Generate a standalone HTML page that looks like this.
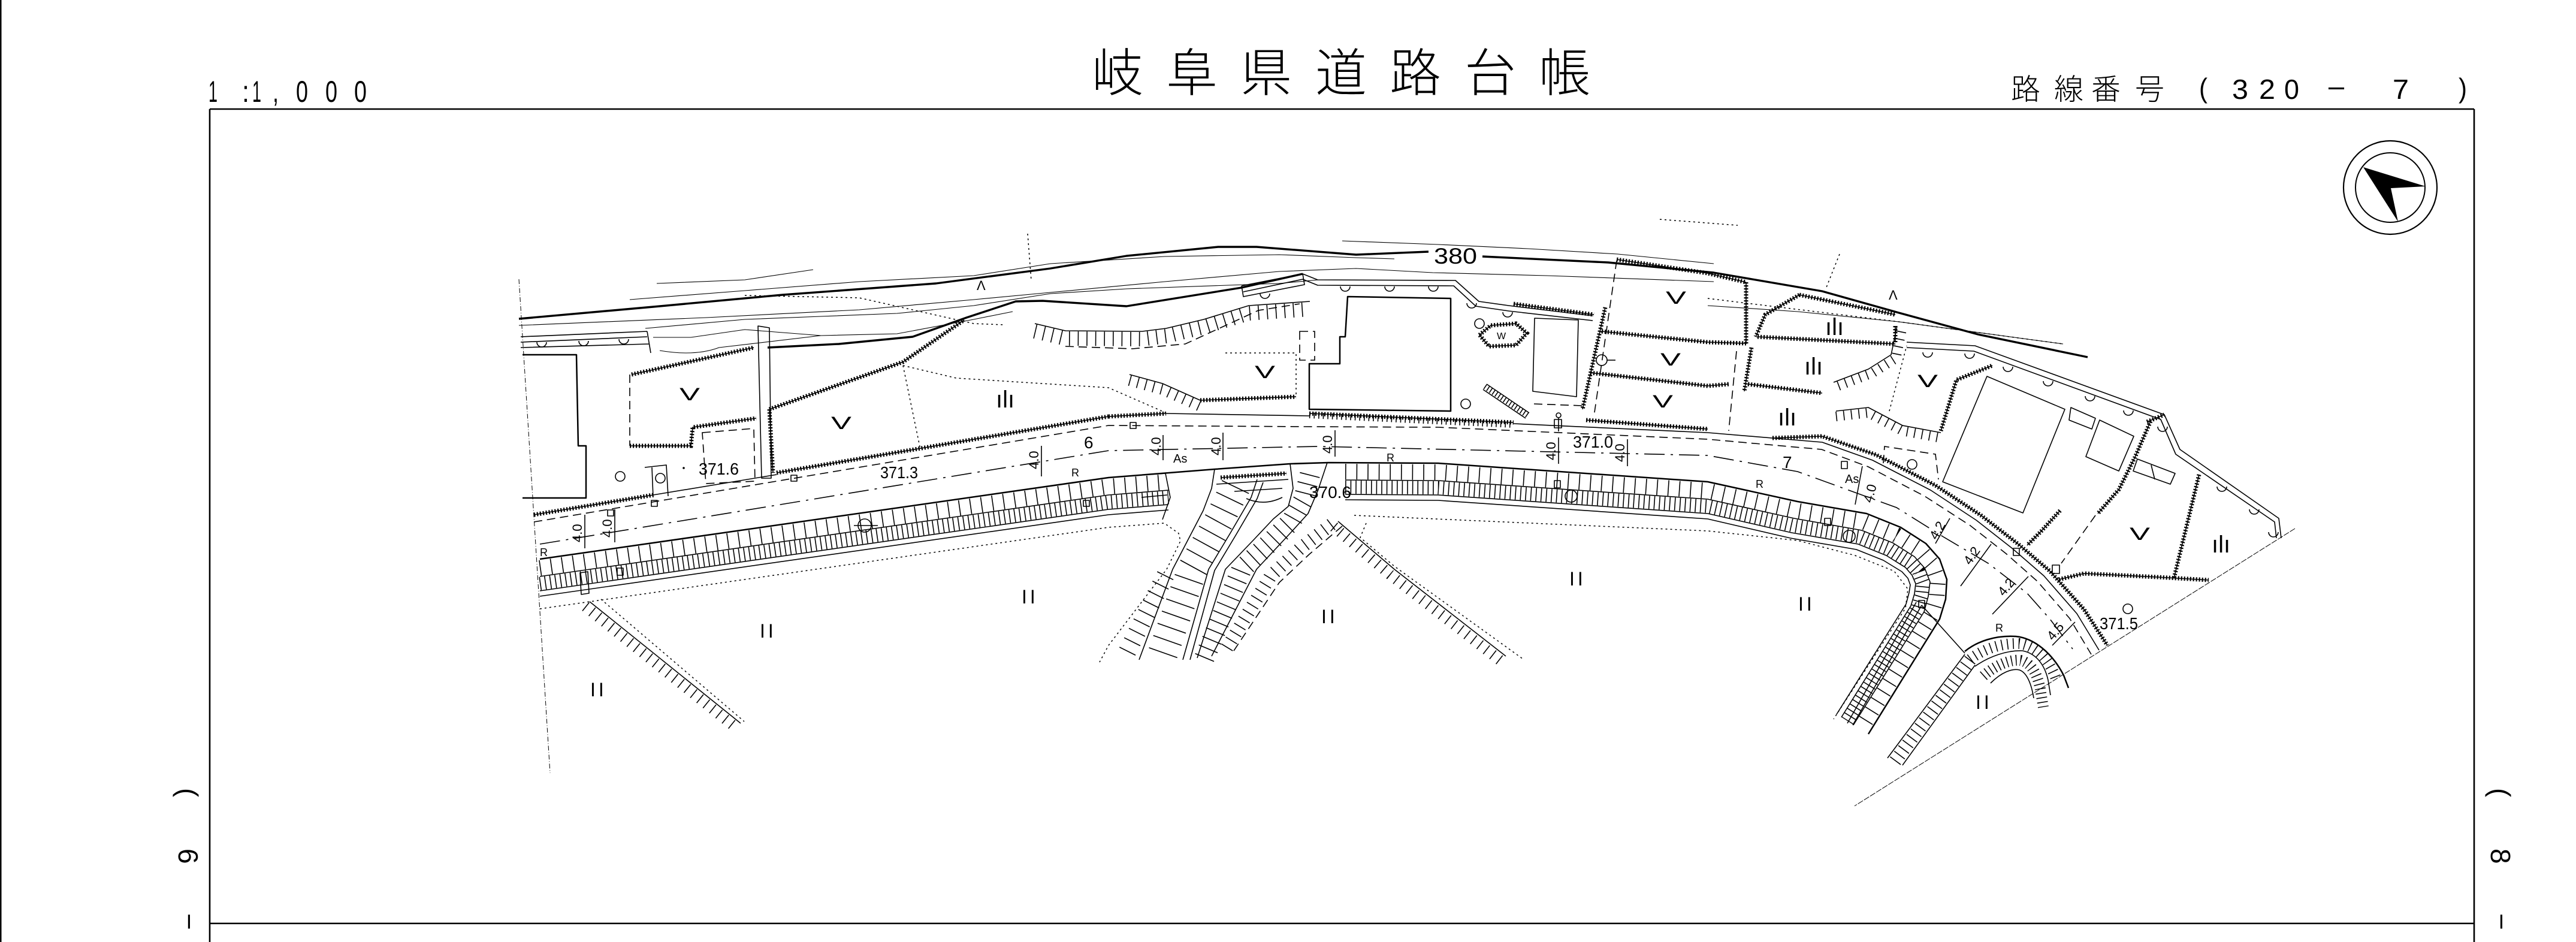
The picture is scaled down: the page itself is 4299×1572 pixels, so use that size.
<!DOCTYPE html>
<html><head><meta charset="utf-8"><title>岐阜県道路台帳</title>
<style>
html,body{margin:0;padding:0;background:#fff}
svg{display:block}
.l{fill:none;stroke:#000;stroke-width:1.6;stroke-linejoin:round}
.t1{fill:none;stroke:#000;stroke-width:1.1}
.k{fill:none;stroke:#000;stroke-width:3.4;stroke-linejoin:round}
.m{fill:none;stroke:#000;stroke-width:2.5;stroke-linejoin:round}
.h{fill:none;stroke:#000;stroke-width:1.6;stroke-dasharray:14 8}
.o{fill:none;stroke:#000;stroke-width:1.5;stroke-dasharray:3 5}
.dd{fill:none;stroke:#000;stroke-width:1.6;stroke-dasharray:34 10 4 10}
.sc{fill:none;stroke:#000;stroke-width:7;stroke-dasharray:2.2 2.8}
.tk{fill:none;stroke:#000}
text{font-family:"Liberation Sans","Noto Sans CJK JP",sans-serif;fill:#000}
.cj{font-family:"Liberation Sans","Noto Sans CJK JP",sans-serif;font-weight:300;fill:#333}
</style></head>
<body>
<svg xmlns="http://www.w3.org/2000/svg" width="4299" height="1572" viewBox="0 0 4299 1572">
<rect x="0" y="0" width="4299" height="1572" fill="#fff"/>
<defs>
<g id="SC">
<path d="M891,859 L1090,826"/>
<path d="M1296,789 L1850,695"/>
<path d="M1054,625 L1258,580"/>
<path d="M1051,744 L1153,744 L1156,713 L1262,698"/>
<path d="M1284,683 L1507,604 L1609,534"/>
<path d="M1284,683 L1290,789"/>
<path d="M2003,668 L2163,662"/>
<path d="M1850,695 L1946,690"/>
<path d="M2526,507 L2660,525"/>
<path d="M2469,559 L2488,543 L2530,540 L2548,556 L2530,576 L2485,578 Z"/>
<path d="M2698,433 L2850,456 L2914,471"/>
<path d="M2679,513 L2641,683"/>
<path d="M2673,553 L2850,571 L2914,573"/>
<path d="M2933,562 L3163,574"/>
<path d="M2654,622 L2850,644 L2885,641"/>
<path d="M2917,641 L3041,656"/>
<path d="M2647,701 L2850,716"/>
<path d="M2914,471 L2914,574"/>
<path d="M3003,492 L2946,525 L2930,562"/>
<path d="M3003,492 L3163,525"/>
<path d="M3163,544 L3163,571"/>
<path d="M2923,580 L2911,653"/>
<path d="M2958,731 L3041,728 L3131,759 L3230,810 L3306,860 L3367,907 L3421,953 L3478,1017 L3517,1077"/>
<path d="M3239,719 L3265,634 L3325,610"/>
<path d="M3589,703 L3563,763 L3536,817 L3501,857"/>
<path d="M3436,967 L3478,957 L3600,963 L3686,968"/>
<path d="M3670,792 L3628,965"/>
<path d="M3438,852 L3406,887 L3383,910"/>
<path d="M2037,797 L2147,790"/>
<path d="M2185,690 L2526,705"/>
<path d="M3583,704 L3612,692"/>
</g>
<path id="S0a" d="M901,933 L1850,797 L1950,789"/>
<path id="H1" d="M1727,540 L1778,552 L1906,553 L1946,548 L2009,533 L2084,510 L2186,503"/>
<path id="H2" d="M1885,625 L1940,640 L2003,668"/>
<path id="H3" d="M984,1004 L1236,1207"/>
<path id="H4" d="M2233,870 L2327,950 L2513,1095"/>
<path id="H5" d="M3060,638 L3118,616 L3156,592 L3166,544"/>
<path id="H6" d="M3064,686 L3118,680 L3175,710 L3239,722"/>
</defs>

<!-- frame -->
<rect x="0" y="0" width="2.5" height="1572" fill="#000"/>
<path d="M350,182 H4129 M350,182 V1572 M4129,182 V1572 M350,1541 H4129" fill="none" stroke="#000" stroke-width="2.6"/>

<!-- header -->
<g font-size="50">
<text x="348" y="170" textLength="15" lengthAdjust="spacingAndGlyphs">1</text>
<text x="404" y="170" textLength="12" lengthAdjust="spacingAndGlyphs">:</text>
<text x="421" y="170" textLength="15" lengthAdjust="spacingAndGlyphs">1</text>
<text x="455" y="170" textLength="10" lengthAdjust="spacingAndGlyphs">,</text>
<text x="494" y="170" textLength="20" lengthAdjust="spacingAndGlyphs">0</text>
<text x="543" y="170" textLength="20" lengthAdjust="spacingAndGlyphs">0</text>
<text x="591" y="170" textLength="21" lengthAdjust="spacingAndGlyphs">0</text>
</g>
<g class="cj" font-size="86">
<text x="1822" y="152">岐</text>
<text x="1946" y="152">阜</text>
<text x="2070" y="152">県</text>
<text x="2195" y="152">道</text>
<text x="2319" y="152">路</text>
<text x="2444" y="152">台</text>
<text x="2568" y="152">帳</text>
</g>
<g class="cj" font-size="49">
<text x="3356" y="166">路</text>
<text x="3428" y="166">線</text>
<text x="3490" y="166">番</text>
<text x="3563" y="166">号</text>
</g>
<g font-size="46">
<text x="3670" y="163" textLength="14" lengthAdjust="spacingAndGlyphs">(</text>
<text x="3725" y="165" textLength="27" lengthAdjust="spacingAndGlyphs">3</text>
<text x="3770" y="165" textLength="27" lengthAdjust="spacingAndGlyphs">2</text>
<text x="3812" y="165" textLength="25" lengthAdjust="spacingAndGlyphs">0</text>
<text x="3881" y="165" textLength="36" lengthAdjust="spacingAndGlyphs">－</text>
<text x="3993" y="165" textLength="27" lengthAdjust="spacingAndGlyphs">7</text>
<text x="4103" y="163" textLength="14" lengthAdjust="spacingAndGlyphs">)</text>
</g>
<!-- side labels -->
<g font-size="46">
<text transform="translate(298,1315) rotate(90)">(</text>
<text transform="translate(298,1416) rotate(90)">6</text>
<text transform="translate(298,1522) rotate(90)" textLength="32" lengthAdjust="spacingAndGlyphs">－</text>
<text transform="translate(4157,1315) rotate(90)">(</text>
<text transform="translate(4157,1416) rotate(90)">8</text>
<text transform="translate(4157,1522) rotate(90)" textLength="32" lengthAdjust="spacingAndGlyphs">－</text>
</g>

<!-- north arrow -->
<circle cx="3989" cy="313" r="78" fill="none" stroke="#000" stroke-width="2.2"/>
<circle cx="3989" cy="313" r="58" fill="none" stroke="#000" stroke-width="2"/>
<polygon points="3944,279 4048,311 3990,314 4002,370" fill="#000"/>

<!-- ================= MAP ================= -->
<path d="M866,466 L918,1290" fill="none" stroke="#000" stroke-width="1" stroke-dasharray="8 3 1 3"/>
<path d="M3830,882 L3095,1345" fill="none" stroke="#000" stroke-width="1" stroke-dasharray="10 2"/>

<!-- contours -->
<path class="k" d="M866,532 L1090,512 L1306,492 L1562,473 L1753,448 L1880,427 L2033,412 L2097,412 L2263,425 L2384,420"/>
<path class="k" d="M2474,428 L2684,438 L2860,455 L3041,486 L3169,522 L3301,558 L3484,596"/>
<text x="2393" y="440" font-size="37" textLength="72" lengthAdjust="spacingAndGlyphs">380</text>
<path class="k" d="M1281,580 L1400,574 L1523,562 L1613,530 L1695,503 L1740,502 L1880,511 L2072,480 L2174,457"/>
<path class="t1" d="M1096,473 L1243,467 L1357,450"/>
<path class="t1" d="M1051,500 L1243,485 L1434,470 L1625,460 L1753,440 L1944,428 L2135,425 L2263,430 L2327,432"/>
<path class="t1" d="M866,543 L1179,530 L1434,517 L1625,500 L1753,488 L1944,470 L2135,453 L2263,448 L2391,455 L2582,460 L2860,470"/>
<path class="t1" d="M1077,548 L1243,533 L1370,528 L1497,523 L1625,510 L1753,490 L1880,482 L2135,473 L2200,467"/>
<path class="t1" d="M1090,563 L1153,563 L1243,550 L1370,560 L1497,557 L1625,533 L1690,520"/>
<path class="t1" d="M1101,585 Q1160,595 1200,580 L1370,560"/>
<path class="t1" d="M2850,510 L3000,520 L3169,537 L3443,574"/>
<path class="t1" d="M2240,402 L2400,408 L2550,415 L2700,424 L2860,440"/>
<path class="o" d="M1243,493 L1434,497 L1625,540 L1676,542"/>
<path class="o" d="M2770,366 L2900,376"/>
<path class="o" d="M1715,390 L1721,468"/>
<path class="o" d="M3070,424 L3047,482"/>
<path class="o" d="M2850,498 L3169,537 L3443,574"/>
<g font-size="22"><text x="1630" y="484">Λ</text><text x="3152" y="500">Λ</text></g>

<!-- scalloped boundaries -->
<use href="#SC" class="l"/>
<use href="#SC" class="sc"/>

<!-- top-left wall -->
<path class="l" d="M869,562 L1080,553 M869,571 L1080,562 M869,580 L1083,574 M1080,553 L1086,589"/>
<path class="l" d="M896,571 a8,8 0 0 0 16,0 M966,569 a8,8 0 0 0 16,0 M1033,566 a8,8 0 0 0 16,0"/>
<path class="m" d="M872,592 L962,592 L965,744 L978,744 L978,831 L872,831"/>
<text x="1134" y="668" font-size="30" textLength="34" lengthAdjust="spacingAndGlyphs">V</text>
<path class="h" d="M1051,625 L1051,744"/>
<path class="h" d="M1172,722 L1258,715 L1260,803 L1178,807 Z"/>
<path class="l" d="M1265,544 L1284,547 L1287,798 L1271,798 Z"/>
<path class="l" d="M1076,780 L1112,776 L1115,828 M1088,780 L1090,830"/>
<circle cx="1035" cy="795" r="8" class="l"/>
<circle cx="1102" cy="798" r="8" class="l"/>
<text x="1387" y="716" font-size="30" textLength="34" lengthAdjust="spacingAndGlyphs">V</text>
<path class="o" d="M1507,610 L1596,631 L1850,647 L1946,689"/>
<path class="o" d="M1507,610 L1536,750"/>
<text x="1662" y="680" font-size="40">ılı</text>

<!-- hachure slopes -->
<use href="#H1" class="l"/>
<use href="#H1" class="tk" transform="translate(0,13)" style="stroke-width:24;stroke-dasharray:1.6 13"/>
<path class="h" d="M1778,578 L1890,582 L1978,574 L2100,518 L2169,507"/>
<use href="#H2" class="l"/>
<use href="#H2" class="tk" transform="translate(0,10)" style="stroke-width:18;stroke-dasharray:1.6 12"/>
<use href="#H3" class="l"/>
<use href="#H3" class="tk" transform="translate(-7,8)" style="stroke-width:18;stroke-dasharray:1.6 12"/>
<path class="o" d="M1003,1000 L1242,1204"/>
<use href="#H4" class="l"/>
<use href="#H4" class="tk" transform="translate(-7,9)" style="stroke-width:18;stroke-dasharray:1.6 12"/>
<path class="o" d="M2280,873 L2270,897 L2327,945 L2542,1100"/>
<use href="#H5" class="l"/>
<use href="#H5" class="tk" transform="translate(8,6)" style="stroke-width:16;stroke-dasharray:1.6 11"/>
<use href="#H6" class="l"/>
<use href="#H6" class="tk" transform="translate(0,9)" style="stroke-width:16;stroke-dasharray:1.6 11"/>

<!-- middle upper area -->
<path class="o" d="M2045,589 L2163,589 L2163,662"/>
<text x="2094" y="631" font-size="30" textLength="34" lengthAdjust="spacingAndGlyphs">V</text>
<path class="h" d="M2169,553 L2194,553 L2194,601 L2169,601 Z"/>
<path class="m" d="M2249,495 L2421,498 L2421,686 L2185,683 L2185,607 L2236,607 L2236,562 L2245,562 Z"/>
<path class="l" d="M2072,477 L2174,457 L2199,467 L2429,468 L2468,503 L2518,510 L2658,527"/>
<path class="l" d="M2075,487 L2174,466 L2199,476 L2426,477 L2463,511 L2518,519 L2658,535"/>
<path class="l" d="M2072,477 L2075,495 L2177,475 L2174,457"/>
<path class="l" d="M2103,490 a8,8 0 0 0 16,0 M2237,478 a8,8 0 0 0 16,0 M2311,478 a8,8 0 0 0 16,0 M2384,478 a8,8 0 0 0 16,0 M2448,506 a8,8 0 0 0 16,0 M2508,521 a8,8 0 0 0 16,0"/>
<path class="l" d="M2561,531 L2634,534 L2631,662 L2558,653 Z"/>
<path class="h" d="M2560,674 L2640,677"/>
<text x="2498" y="566" font-size="16">W</text>
<path class="l" d="M2481,641 L2552,689 M2475,650 L2546,698"/>
<path class="tk" d="M2478,645 L2549,693" style="stroke-width:9;stroke-dasharray:1.6 4"/>
<circle cx="2469" cy="540" r="8" class="l"/>
<circle cx="2446" cy="674" r="8" class="l"/>
<path class="tk" d="M2185,693 L2526,709" style="stroke-width:10;stroke-dasharray:1.6 6"/>
<path class="h" d="M2698,435 L2660,695"/>
<g font-size="30">
<text x="2780" y="507" textLength="34" lengthAdjust="spacingAndGlyphs">V</text>
<text x="2771" y="610" textLength="34" lengthAdjust="spacingAndGlyphs">V</text>
<text x="2758" y="680" textLength="34" lengthAdjust="spacingAndGlyphs">V</text>
</g>
<circle cx="2673" cy="601" r="9" class="l"/><path class="l" d="M2682,601 H2696"/>

<!-- right upper area -->
<path class="l" d="M3182,571 L3296,577 L3612,692 L3638,750 L3803,865 L3807,898"/>
<path class="l" d="M3182,580 L3294,586 L3606,700 L3631,758 L3796,871 L3799,898"/>
<path class="l" d="M3209,588 a8,8 0 0 0 16,0 M3279,590 a8,8 0 0 0 16,0 M3343,612 a8,8 0 0 0 16,0 M3410,636 a8,8 0 0 0 16,0 M3480,661 a8,8 0 0 0 16,0 M3544,685 a8,8 0 0 0 16,0 M3601,712 a8,8 0 0 0 16,0 M3700,812 a8,8 0 0 0 16,0 M3754,850 a8,8 0 0 0 16,0 M3786,888 a8,8 0 0 0 16,0"/>
<g font-size="40">
<text x="3046" y="559">ılı</text>
<text x="3011" y="625">ılı</text>
<text x="2967" y="710">ılı</text>
<text x="3691" y="922">ılı</text>
</g>
<path class="h" d="M2898,586 L2885,719"/>
<path class="o" d="M3153,686 L3182,577"/>
<text x="3200" y="646" font-size="30" textLength="34" lengthAdjust="spacingAndGlyphs">V</text>
<path class="l" d="M3316,628 L3446,683 L3376,856 L3242,804 Z"/>
<path class="l" d="M3456,680 L3497,698 L3491,716 L3453,701 Z"/>
<path class="l" d="M3504,701 L3561,728 L3536,786 L3481,762 Z"/>
<path class="h" d="M3143,773 L3145,745 L3230,758 L3235,800"/>
<circle cx="3191" cy="775" r="8" class="l"/>
<path class="h" d="M3497,860 L3440,940"/>
<path class="l" d="M3567,766 L3630,790 L3622,808 L3560,786 Z M3590,776 L3596,800"/>
<text x="3554" y="901" font-size="30" textLength="34" lengthAdjust="spacingAndGlyphs">V</text>
<circle cx="3551" cy="1016" r="8" class="l"/>

<!-- ====== main road ====== -->
<path class="l" d="M1090,826 L1296,792"/>
<path class="l" d="M1946,690 L2185,694"/>
<path class="l" d="M2526,707 L2850,722 L3041,738 L3125,768 L3222,818 L3298,868 L3358,915 L3411,961 L3466,1024 L3503,1085"/>
<path class="h" d="M891,871 L1850,710 L2177,712 L2400,713 L2850,733 L3040,750 L3118,779 L3212,828 L3288,877 L3348,924 L3400,970 L3454,1032 L3490,1092"/>
<path class="dd" d="M901,908 L1850,752 L2200,745 L2850,760 L3000,787 L3165,847 L3245,897 L3318,940 L3383,990 L3421,1033 L3459,1083"/>
<path class="m" d="M901,933 L1850,797 L2027,783 L2153,774 L2217,772 L2400,773 L2850,804 L3000,837 L3115,857 L3172,880 L3214,907 L3237,933 L3249,967 L3247,1000 L3237,1033 L3118,1225"/>
<use href="#S0a" class="tk" transform="translate(0,15)" style="stroke-width:26;stroke-dasharray:1.6 17"/>
<use href="#S0a" class="l" transform="translate(0,29)"/>
<use href="#S0a" class="tk" transform="translate(0,41)" style="stroke-width:22;stroke-dasharray:1.6 7"/>
<use href="#S0a" class="l" transform="translate(0,53)"/>
<use href="#S0a" class="l" transform="translate(0,62)"/>
<path class="o" d="M901,1016 L1850,880 L1943,873 L1967,890 L1970,903 L1947,950 L1850,1077 L1835,1105"/>
<path class="l" d="M968,956 L981,954 L983,990 L970,992 Z"/>
<path class="tk" style="stroke-width:26;stroke-dasharray:1.6 17" d="M2245,787 L2400,788 L2850,819 L2997,852 L3111,871 L3165,893 L3204,918 L3224,941 L3234,969 L3232,997 L3223,1027 L3105,1217"/>
<path class="l" d="M2245,801 L2400,802 L2850,833 L2994,865 L3107,885 L3159,906 L3195,929 L3212,948 L3221,971 L3218,995 L3211,1021 L3093,1210"/>
<path class="tk" style="stroke-width:22;stroke-dasharray:1.6 7" d="M2245,813 L2400,814 L2850,845 L2992,877 L3104,896 L3153,916 L3187,938 L3202,954 L3209,973 L3207,993 L3200,1016 L3083,1203"/>
<path class="l" d="M2245,825 L2400,826 L2850,857 L2990,889 L3101,908 L3148,927 L3180,947 L3191,960 L3197,974 L3195,991 L3189,1011 L3073,1197"/>
<path class="l" d="M2245,834 L2400,835 L2850,866 L2988,898 L3098,917 L3143,935 L3174,954 L3184,965 L3188,976 L3186,989 L3181,1008 L3065,1192"/>
<path class="o" d="M2260,860 L2850,886 L3000,902 L3096,927 L3161,953 L3184,983 L3180,1015 L3060,1200"/>

<!-- branches middle -->
<path class="l" d="M2027,783 L2022,815 L2008,852 L1957,950 L1901,1101"/>
<path class="l" d="M2098,800 L2088,830 L2053,890 L2017,950 L1974,1101"/>
<path class="l" d="M2108,805 L2098,832 L2063,892 L2027,952 L1986,1101"/>
<path class="l" d="M2153,774 L2158,815 L2150,845 L2125,866 L2093,900 L2045,950 L1998,1098"/>
<path class="l" d="M2215,772 L2200,817 L2183,857 L2153,890 L2097,950 L2022,1095"/>
<path class="tk" style="stroke-width:50;stroke-dasharray:1.6 20" d="M2062,812 L2036,866 L1990,950 L1937,1101"/>
<path class="tk" style="stroke-width:34;stroke-dasharray:1.6 14" d="M2186,792 L2175,835 L2155,870 L2120,905 L2072,950 L2010,1098"/>
<path class="tk" style="stroke-width:30;stroke-dasharray:1.6 16" d="M1945,960 L1875,1100"/>
<path class="tk" style="stroke-width:22;stroke-dasharray:1.6 12" d="M2222,875 L2170,915 L2120,962 L2042,1090"/>
<path class="h" d="M2240,878 L2185,925 L2135,972 L2055,1092"/>
<path class="l" d="M2030,808 L2150,800 M2060,820 L2140,815 M2080,832 Q2110,845 2140,830"/>
<path class="l" d="M1900,793 L1945,790 L1953,830 L1940,867 M1905,830 L1948,826"/>

<!-- south branches right -->
<path class="l" d="M3198,1005 L3083,1207 M3207,1010 L3092,1210"/>
<path class="l" d="M3207,1010 L3279,1090"/>
<path class="l" d="M3279,1092 L3150,1265 M3296,1110 L3175,1277"/>
<path class="tk" style="stroke-width:22;stroke-dasharray:1.6 10" d="M3288,1101 L3162,1271"/>
<path class="m" d="M3279,1087 C3300,1070 3330,1060 3364,1062 C3395,1065 3425,1090 3444,1127 L3452,1148"/>
<path class="l" d="M3296,1112 C3320,1095 3350,1085 3375,1086 C3397,1090 3412,1108 3418,1135 L3422,1160"/>
<path class="tk" style="stroke-width:18;stroke-dasharray:1.6 8" d="M3288,1100 C3310,1083 3340,1073 3370,1074 C3398,1078 3420,1100 3432,1135"/>
<path class="tk" style="stroke-width:18;stroke-dasharray:1.6 6" d="M3310,1128 C3330,1110 3355,1100 3372,1102 C3390,1106 3400,1125 3405,1150 L3410,1180"/>
<path class="l" d="M3322,1140 C3340,1122 3358,1115 3370,1118 C3382,1122 3390,1140 3394,1165"/>
<path class="l" d="M3230,907 L3254,865 M3272,978 L3323,908 M3325,1025 L3385,962 M3425,1077 L3463,1038"/>
<g font-size="22">
<text transform="translate(3232,902) rotate(-60)">4.2</text>
<text transform="translate(3288,944) rotate(-55)">4.2</text>
<text transform="translate(3344,996) rotate(-50)">4.2</text>
<text transform="translate(3426,1070) rotate(-50)">4.5</text>
</g>

<!-- small posts / circles -->
<g class="l">
<rect x="1014" y="851" width="10" height="10"/>
<rect x="1320" y="793" width="10" height="10"/>
<rect x="1087" y="835" width="10" height="10"/>
<rect x="1808" y="835" width="10" height="10"/>
<rect x="1030" y="948" width="10" height="12"/>
<rect x="1886" y="705" width="10" height="10"/>
<rect x="2594" y="802" width="10" height="12"/>
<rect x="2594" y="700" width="12" height="14"/>
<rect x="3073" y="770" width="10" height="12"/>
<rect x="3045" y="865" width="10" height="12"/>
<rect x="3202" y="1002" width="10" height="12"/>
<rect x="3360" y="915" width="10" height="12"/>
<rect x="3425" y="943" width="12" height="14"/>
<circle cx="1443" cy="877" r="11"/>
<circle cx="2622" cy="828" r="10"/>
<circle cx="3086" cy="895" r="10"/>
<circle cx="2601" cy="693" r="4"/>
</g>
<path class="l" d="M1425,877 H1465 M2601,697 V720"/>

<!-- elevations / labels -->
<g font-size="28">
<text x="1166" y="792" textLength="67" lengthAdjust="spacingAndGlyphs">371.6</text>
<text x="1469" y="798" textLength="63" lengthAdjust="spacingAndGlyphs">371.3</text>
<text x="2625" y="747" textLength="67" lengthAdjust="spacingAndGlyphs">371.0</text>
<text x="2185" y="831" textLength="70" lengthAdjust="spacingAndGlyphs">370.6</text>
<text x="3504" y="1050" textLength="64" lengthAdjust="spacingAndGlyphs">371.5</text>
<text x="1809" y="748">6</text>
<text x="2975" y="781">7</text>
</g>
<circle cx="1141" cy="781" r="1.8" fill="#000"/>
<g font-size="18">
<text x="901" y="928">R</text>
<text x="1788" y="795">R</text>
<text x="2314" y="770">R</text>
<text x="2930" y="814">R</text>
<text x="3330" y="1054">R</text>
</g>
<g font-size="20">
<text x="1958" y="772">As</text>
<text x="3079" y="806">As</text>
</g>
<g font-size="22">
<text transform="translate(971,905) rotate(-90)">4.0</text>
<text transform="translate(1021,897) rotate(-90)">4.0</text>
<text transform="translate(1733,783) rotate(-90)">4.0</text>
<text transform="translate(1937,760) rotate(-90)">4.0</text>
<text transform="translate(2037,760) rotate(-90)">4.0</text>
<text transform="translate(2223,757) rotate(-90)">4.0</text>
<text transform="translate(2596,768) rotate(-90)">4.0</text>
<text transform="translate(2711,771) rotate(-90)">4.0</text>
<text transform="translate(3124,840) rotate(-75)">4.0</text>
</g>
<path class="l" d="M976,859 V915 M1026,850 V905 M1738,744 V795 M1941,726 V768 M2041,722 V768 M2228,718 V762 M2601,730 V774 M2716,733 V778 M3108,778 L3096,842"/>
<g font-size="32" letter-spacing="5">
<text x="1268" y="1064">II</text>
<text x="985" y="1162">II</text>
<text x="1705" y="1007">II</text>
<text x="2205" y="1040">II</text>
<text x="2619" y="977">II</text>
<text x="3001" y="1019">II</text>
<text x="3297" y="1183">II</text>
</g>
</svg>
</body></html>
